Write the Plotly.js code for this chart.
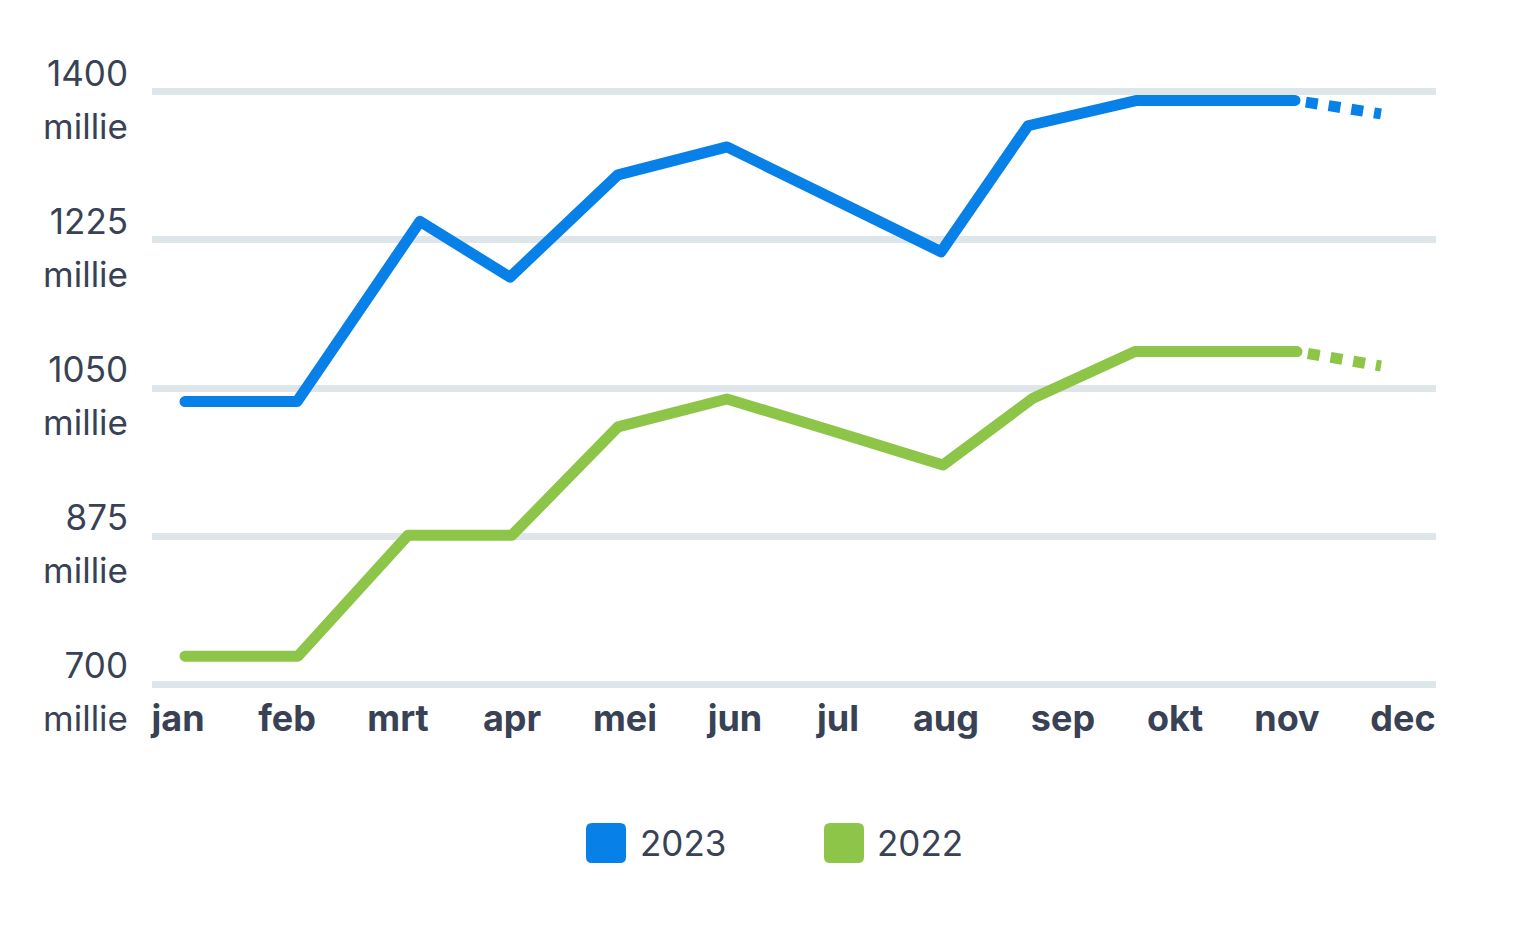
<!DOCTYPE html>
<html>
<head>
<meta charset="utf-8">
<script src="https://cdn.plot.ly/plotly-3.0.1.min.js"></script>
<style>
  html, body { margin: 0; padding: 0; background: #ffffff; }
  #chart { width: 1536px; height: 930px; }
  .scatterlayer path.js-line { stroke-linejoin: round !important; }
  .scatterlayer .trace:nth-child(1) path.js-line,
  .scatterlayer .trace:nth-child(2) path.js-line { stroke-linecap: round !important; }
</style>
</head>
<body>
<div id="chart"></div>
<script>
// Month labels and their positions along the horizontal scale
const months = ['jan', 'feb', 'mrt', 'apr', 'mei', 'jun', 'jul', 'aug', 'sep', 'okt', 'nov', 'dec'];
const monthPos = [178, 287, 398, 512, 625, 735, 838, 946, 1063, 1175, 1287, 1403];

// 2023 series (solid) and its forecast (dotted)
const x2023 = [185, 297, 420, 510, 618, 727, 836, 941, 1028, 1137, 1295];
const y2023 = [1034, 1034, 1247, 1181, 1302, 1335, 1272, 1211, 1360, 1390, 1390];
const x2023f = [1295, 1381];
const y2023f = [1390, 1374];

// 2022 series (solid) and its forecast (dotted)
const x2022 = [185, 298, 408, 512, 618, 727, 836, 943, 1033, 1135, 1297];
const y2022 = [733, 733, 876, 876, 1004, 1037, 998, 959, 1038, 1093, 1093];
const x2022f = [1297, 1381];
const y2022f = [1093, 1076];

// Y ticks
const yTicks = [700, 875, 1050, 1225, 1400];
const yTickNum = yTicks.map(v => String(v));
const yTickUnit = yTicks.map(() => 'millie');

// Legend
const seriesNames = ['2023', '2022'];
const seriesColors = ['#0780e8', '#8dc548'];

const W = 1536, H = 930;
const L = 152, R = 100, T = 75, B = 229;
const plotW = W - L - R, plotH = H - T - B;
const px2paperX = p => (p - L) / plotW;
const px2paperY = p => (H - B - p) / plotH;

const dotted = '0px,11px,12px,0px';
const traces = [
  { x: x2023, y: y2023, name: seriesNames[0], mode: 'lines', line: { color: seriesColors[0], width: 11 }, showlegend: false, hoverinfo: 'skip' },
  { x: x2022, y: y2022, name: seriesNames[1], mode: 'lines', line: { color: seriesColors[1], width: 11 }, showlegend: false, hoverinfo: 'skip' },
  { x: x2023f, y: y2023f, mode: 'lines', line: { color: seriesColors[0], width: 11, dash: dotted }, showlegend: false, hoverinfo: 'skip' },
  { x: x2022f, y: y2022f, mode: 'lines', line: { color: seriesColors[1], width: 11, dash: dotted }, showlegend: false, hoverinfo: 'skip' },
  // invisible trace to activate the second (unit) label axis
  { x: [monthPos[0]], y: [yTicks[0]], yaxis: 'y2', mode: 'markers', marker: { opacity: 0 }, showlegend: false, hoverinfo: 'skip' }
];

const legendCentersX = [606, 844];
const legendTextX = [638, 875];
const legendY = 843;
const sq = 'M -20,-14 Q -20,-20 -14,-20 L 14,-20 Q 20,-20 20,-14 L 20,14 Q 20,20 14,20 L -14,20 Q -20,20 -20,14 Z';

const shapes = seriesNames.map((n, i) => ({
  type: 'path', xref: 'paper', yref: 'paper',
  xsizemode: 'pixel', ysizemode: 'pixel',
  xanchor: px2paperX(legendCentersX[i]), yanchor: px2paperY(legendY),
  path: sq, fillcolor: seriesColors[i], line: { width: 0 }
}));

const annotations = seriesNames.map((n, i) => ({
  text: n, xref: 'paper', yref: 'paper',
  x: px2paperX(legendTextX[i]), y: px2paperY(legendY),
  xanchor: 'left', yanchor: 'middle', showarrow: false,
  font: { family: 'Inter, sans-serif', size: 35, color: '#384254' }
}));

const yRange = [680, 1420];
const tickFontY = { family: 'Inter, sans-serif', size: 35, color: '#384254' };

const layout = {
  width: W, height: H,
  margin: { l: L, r: R, t: T, b: B, pad: 0 },
  paper_bgcolor: '#ffffff', plot_bgcolor: '#ffffff',
  showlegend: false,
  xaxis: {
    range: [152, 1436], showgrid: false, zeroline: false, showline: false,
    tickmode: 'array', tickvals: monthPos, ticktext: months,
    ticks: '', ticklabelstandoff: -7,
    tickfont: { family: 'Inter, sans-serif', size: 36, color: '#384254', weight: 700 },
    fixedrange: true
  },
  yaxis: {
    range: yRange, showgrid: true, gridcolor: '#dfe6e9', gridwidth: 7,
    zeroline: false, showline: false,
    tickmode: 'array', tickvals: yTicks, ticktext: yTickNum,
    ticks: '', ticklabelstandoff: 23, ticklabelshift: -18,
    tickfont: tickFontY,
    fixedrange: true
  },
  yaxis2: {
    range: yRange, overlaying: 'y', side: 'left', anchor: 'x',
    showgrid: false, zeroline: false, showline: false,
    tickmode: 'array', tickvals: yTicks, ticktext: yTickUnit,
    ticks: '', ticklabelstandoff: 23, ticklabelshift: 35,
    tickfont: tickFontY,
    fixedrange: true
  },
  shapes: shapes,
  annotations: annotations
};

Plotly.newPlot('chart', traces, layout, { staticPlot: true, displayModeBar: false });
</script>
</body>
</html>
